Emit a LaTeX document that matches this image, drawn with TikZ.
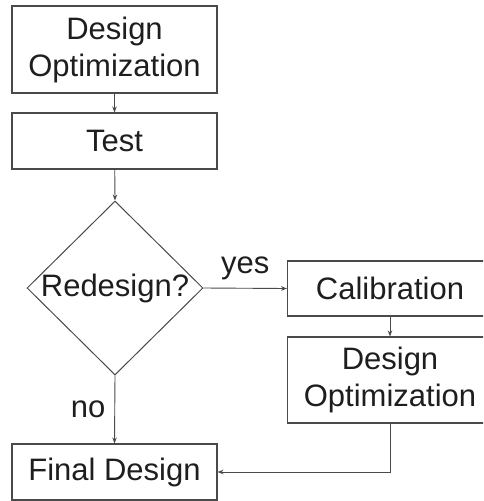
\documentclass[tikz,border=0pt]{standalone}
\usepackage{fontspec}
\setmainfont{Liberation Sans}
\usetikzlibrary{arrows.meta,shapes.geometric}
\definecolor{ln}{HTML}{4A4A4A}
\definecolor{tx}{HTML}{1E1E1E}
\tikzset{
  box/.style={draw=ln, line width=1.1pt, rectangle, minimum width=205pt, inner sep=0pt, align=center, text=tx, font=\fontsize{31}{37}\selectfont},
  lbl/.style={inner sep=0pt, text=tx, font=\fontsize{31}{37}\selectfont},
  conn/.style={draw=ln, line width=0.9pt, -{Stealth[length=6pt,width=4.5pt]}}
}
\begin{document}
\begin{tikzpicture}[x=1pt,y=-1pt]
\useasboundingbox (0,0) rectangle (483,501);
\clip (0,0) rectangle (483,501);
\node[box, minimum height=87pt] (do1) at (114.5,49.5) {Design\\Optimization};
\node[box, minimum height=56pt] (test) at (114.5,141) {Test};
\node[diamond, draw=ln, line width=1pt, minimum width=176pt, minimum height=174pt, inner sep=0pt] (dec) at (115,288) {};
\node[lbl] (dectext) at (dec.center) {Redesign?};
\node[box, minimum height=55pt] (cal) at (390,288.5) {Calibration};
\node[box, minimum height=86pt] (do2) at (390,380) {Design\\Optimization};
\node[box, minimum height=56pt] (fin) at (114.5,472) {Final Design};
\draw[conn] (do1) -- (test);
\draw[conn] (test) -- (dec.north);
\draw[conn] (dec.east) -- node[lbl, above=8pt] (yes) {yes} (cal.west);
\draw[conn] (cal) -- (do2);
\draw[conn] (dec.south) -- node[lbl, left=9pt] (no) {no} (fin.north);
\draw[conn] (do2.south) |- (fin.east);
\end{tikzpicture}
\end{document}
